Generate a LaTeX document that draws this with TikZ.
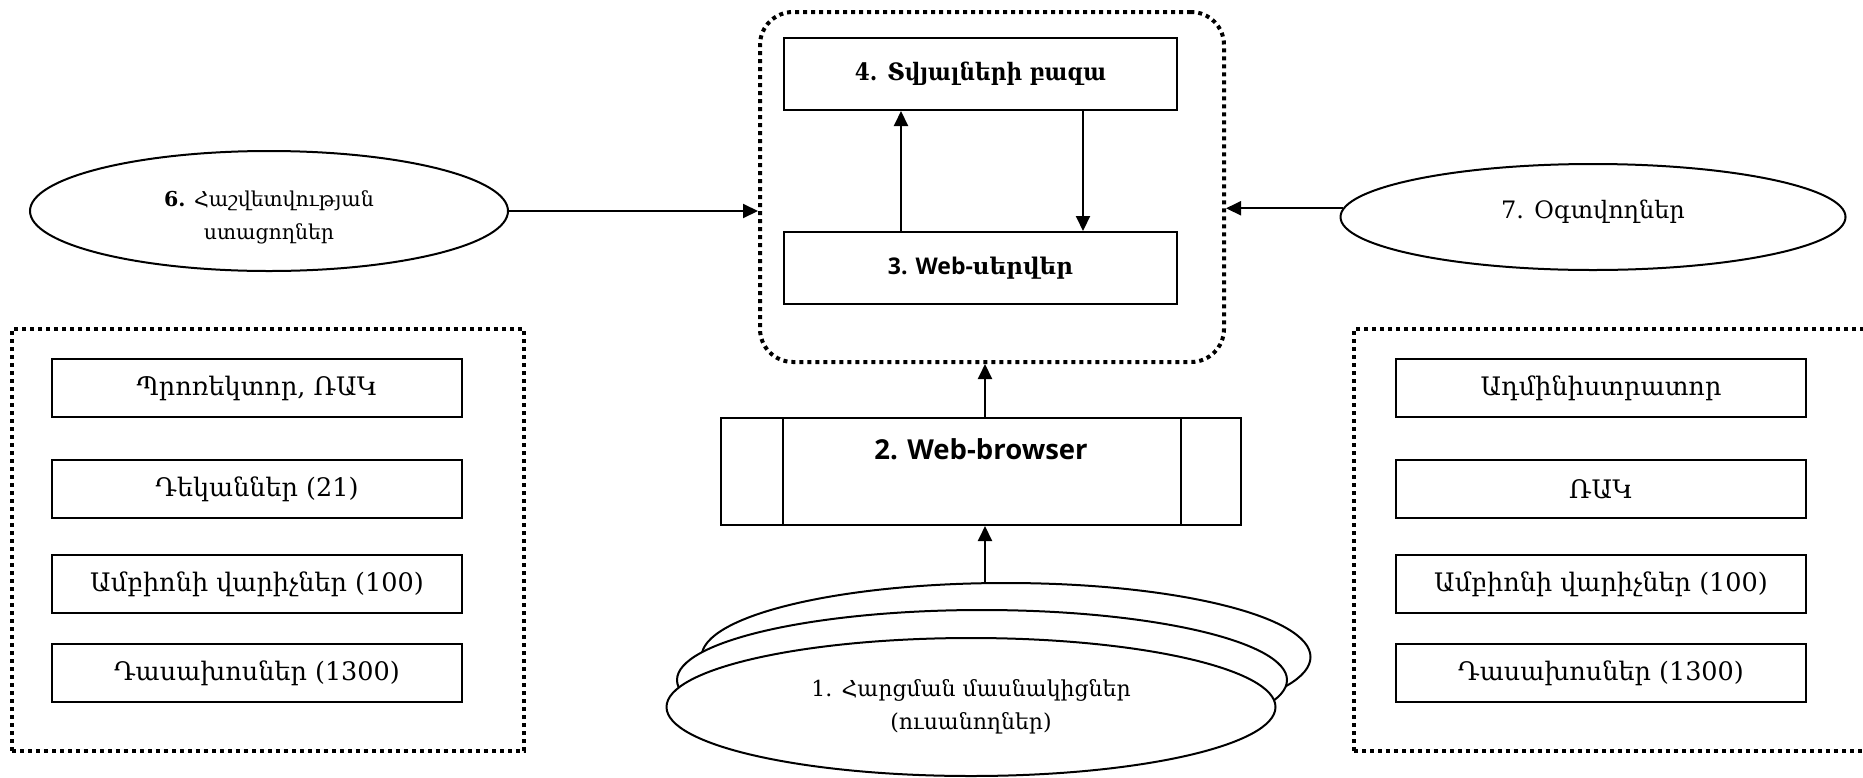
\documentclass[tikz,border=0pt]{standalone}
\usepackage{fontspec}
\usepackage{graphicx}
\setmainfont{DejaVu Serif}
\newfontfamily\latsans{Open Sans}
\usetikzlibrary{shapes.geometric,arrows.meta,calc}
\begin{document}
\begin{tikzpicture}[x=1pt,y=-1pt,
  box/.style={draw, line width=2pt, minimum width=410pt, minimum height=58pt, inner sep=0pt, font=\fontsize{25.5}{29}\selectfont},
  bigbox/.style={draw, line width=2pt, minimum width=393pt, minimum height=72pt, inner sep=0pt, font=\bfseries\fontsize{24}{28}\selectfont},
  ell/.style={draw, ellipse, line width=2pt, fill=white, inner sep=0pt, align=center},
  dotbox/.style={draw, line width=4pt, dash pattern=on 4pt off 4pt, inner sep=0pt},
  arr/.style={line width=2pt, -{Triangle[length=15pt,width=14pt]}},
]
\useasboundingbox (0,0) rectangle (1863,777);

% central server group
\node[dotbox, rounded corners=33pt, minimum width=464pt, minimum height=350pt] (srv) at (992,187) {};
\node[bigbox] (db) at (980.5,74) {\scalebox{0.9}[1]{4. Տվյալների բազա}};
\node[bigbox, font=\bfseries\fontsize{23}{27}\selectfont] (ws) at (980.5,268) {{\latsans 3. Web-}սերվեր};
\draw[arr] ([xshift=118pt]ws.north west) -- ([xshift=118pt]db.south west);
\draw[arr] ([xshift=300pt]db.south west) -- ([xshift=300pt]ws.north west);

% ellipses 6 and 7
\node[ell, minimum width=478pt, minimum height=120pt, font=\fontsize{20.5}{33}\selectfont] (e6) at (269,211) {\rule{0pt}{28pt}\textbf{6.} Հաշվետվության\\ստացողներ};
\node[ell, minimum width=505pt, minimum height=106pt, font=\fontsize{24}{28}\selectfont] (e7) at (1593,217) {\raisebox{-1pt}[0pt][0pt]{7. Օգտվողներ}};
\draw[arr] (e6.east) -- (e6.east -| srv.west);
\draw[arr] (e7.178.5) -- (e7.178.5 -| srv.east);

% browser
\node[draw, line width=2pt, minimum width=520pt, minimum height=107pt, inner sep=0pt, font=\latsans\bfseries\fontsize{27.5}{31}\selectfont] (br) at (981,471.5) {\raisebox{12pt}[0pt][0pt]{2. Web-browser}};
\draw[line width=1.5pt] ([xshift=63pt]br.north west) -- ([xshift=63pt]br.south west);
\draw[line width=1.5pt] ([xshift=-61pt]br.north east) -- ([xshift=-61pt]br.south east);
\draw[arr] ([xshift=4pt]br.north) -- ([xshift=4pt]br.north |- srv.south);

% stacked participants ellipses
\node[ell, minimum width=609pt, minimum height=148pt] (e1c) at (1006,657) {};
\node[ell, minimum width=610pt, minimum height=140pt] (e1b) at (982,680) {};
\node[ell, minimum width=609pt, minimum height=138pt, font=\fontsize{22}{33}\selectfont] (e1a) at (971,707) {1. Հարցման մասնակիցներ\\(ուսանողներ)};
\draw[arr] ([xshift=4pt]e1c.north -| br.south) -- ([xshift=4pt]br.south);

% left group
\node[dotbox, minimum width=512pt, minimum height=422pt] (lg) at (268,540) {};
\node[box] (l1) at (257,388) {Պրոռեկտոր, ՌԱԿ};
\node[box] (l2) at (257,489) {Դեկաններ (21)};
\node[box] (l3) at (257,584) {Ամբիոնի վարիչներ (100)};
\node[box] (l4) at (257,673) {Դասախոսներ (1300)};

% right group
\node[dotbox, minimum width=512pt, minimum height=422pt] (rg) at (1610,540) {};
\node[box] (r1) at (1601,388) {Ադմինիստրատոր};
\node[box] (r2) at (1601,489) {ՌԱԿ};
\node[box] (r3) at (1601,584) {Ամբիոնի վարիչներ (100)};
\node[box] (r4) at (1601,673) {Դասախոսներ (1300)};
\end{tikzpicture}
\end{document}
